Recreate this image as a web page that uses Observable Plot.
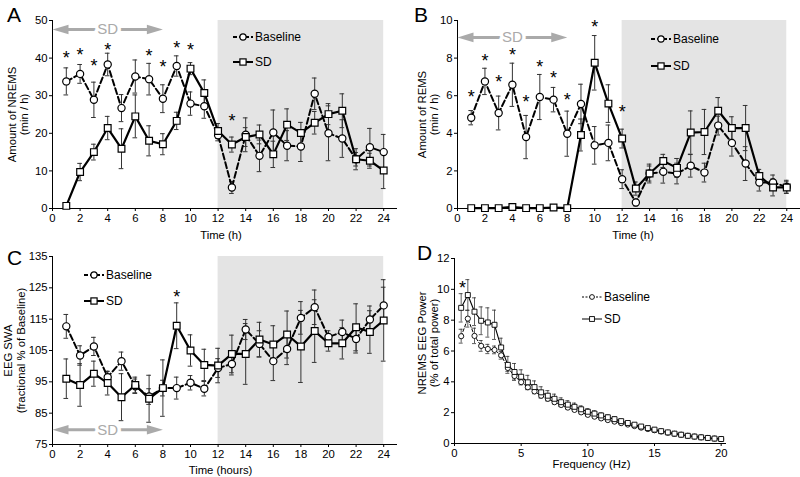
<!DOCTYPE html>
<html><head><meta charset="utf-8">
<script src="https://cdn.jsdelivr.net/npm/d3@7"></script>
<script src="https://cdn.jsdelivr.net/npm/@observablehq/plot@0.6"></script>
<style>
body{margin:0;background:#fff;font-family:"Liberation Sans",Arial,sans-serif;}
#fig{position:relative;width:800px;height:477px;overflow:hidden;background:#fff;}
.panel{position:absolute;}
.letter{position:absolute;font-size:21px;line-height:1;color:#000;}
.leg{position:absolute;height:14px;line-height:14px;font-size:12px;white-space:nowrap;display:flex;align-items:center;}
.leg svg{display:block;}
.leg span{margin-left:2px;}
</style></head><body><div id="fig"></div>
<script>
// ---------- data ----------
const hours = [1,2,3,4,5,6,7,8,9,10,11,12,13,14,15,16,17,18,19,20,21,22,23,24];
const timeTicks = [0,2,4,6,8,10,12,14,16,18,20,22,24];
const darkPhase = [12, 24];
const sdPeriod = [0, 8];
const sdLabel = "SD";
const seriesNames = ["Baseline", "SD"];

// A: NREMS (min/h)
const nremBase    = [33.8,35.8,28.9,38.3,26.7,35.1,34.4,29.2,37.9,27.9,27.2,19.5,5.6,19.6,14.0,20.2,16.7,16.5,30.5,20.0,18.6,13.1,16.3,15.0];
const nremBaseErr = [3.6,2.5,4.7,3.0,3.6,4.4,4.2,3.7,2.7,3.1,3.2,1.5,1.6,4.5,4.2,6.0,4.0,4.0,4.2,7.3,5.0,1.8,5.0,4.7];
const nremSD      = [0.7,9.7,15.0,21.4,15.9,24.5,18.0,17.1,23.3,37.2,30.7,20.6,17.0,19.0,19.7,14.4,22.3,20.1,22.8,25.1,26.0,13.1,12.7,10.1];
const nremSDErr   = [0,2.3,2.1,3.1,5.3,5.7,4.0,2.8,2.3,1.6,3.5,2.0,2.0,2.5,2.5,3.5,4.2,2.8,3.0,2.8,4.5,2.8,2.0,4.8];
const nremStarH   = [1,2,3,4,7,8,9,10,13];
const nremStarY   = [41.3,42.0,39.2,43.5,41.9,38.8,44.0,43.3,24.6];

// B: REMS (min/h)
const remBase    = [4.83,6.76,5.08,6.58,3.80,5.93,5.79,3.98,5.56,3.36,3.49,1.56,0.32,1.86,1.95,1.86,2.27,1.91,4.41,3.49,2.39,1.38,1.38,1.15];
const remBaseErr = [0.38,0.70,0.90,1.15,1.15,1.20,0.65,1.20,1.05,1.00,0.95,0.50,0.18,0.40,0.60,0.55,0.60,0.50,0.50,0.70,0.90,0.45,0.40,0.35];
const remSD      = [0.02,0.02,0.02,0.08,0.02,0.02,0.05,0.02,3.91,7.75,5.58,3.72,1.06,1.86,2.53,2.16,4.04,4.07,5.20,4.28,4.28,1.73,1.12,1.12];
const remSDErr   = [0,0,0,0,0,0,0,0,0.85,1.45,1.00,0.50,0.35,0.50,0.35,0.50,1.15,1.20,0.70,0.60,1.20,0.35,0.45,0.30];
const remStarH   = [1,2,3,4,5,6,7,8,10,12];
const remStarY   = [6.2,8.1,7.0,8.4,5.9,7.8,7.2,6.05,9.9,5.36];

// C: EEG SWA (% of baseline)
const swaBase    = [112.7,103.4,106.3,96.5,101.6,93.6,90.3,93.0,93.0,94.7,92.8,99.4,100.7,111.7,107.1,101.6,105.5,115.4,118.8,109.3,110.9,108.7,114.9,119.4];
const swaBaseErr = [3.8,3.1,2.9,1.8,2.9,2.3,2.5,2.5,3.5,2.3,2.3,3.0,3.5,3.2,4.2,6.2,5.0,5.2,5.5,2.0,3.8,4.5,4.3,5.8];
const swaSD      = [96.0,94.0,97.6,94.6,90.1,94.0,89.6,93.0,112.9,105.0,100.4,100.2,103.9,103.9,108.5,106.9,110.1,106.3,111.2,107.3,107.3,112.4,110.9,114.6];
const swaSDErr   = [6.3,6.8,4.0,3.8,7.5,2.5,7.5,9.0,7.3,5.0,5.0,5.5,6.0,9.7,5.5,6.0,7.5,11.5,10.0,2.5,5.0,7.5,6.8,13.0];
const swaStarH   = [9];
const swaStarY   = [123.6];

// D: NREMS EEG power spectrum
const freqs = [0.5,1,1.5,2,2.5,3,3.5,4,4.5,5,5.5,6,6.5,7,7.5,8,8.5,9,9.5,10,10.5,11,11.5,12,12.5,13,13.5,14,14.5,15,15.5,16,16.5,17,17.5,18,18.5,19,19.5,20];
const freqTicks = [0,5,10,15,20];
const psdBase    = [6.96,8.1,6.98,6.33,6.13,6.07,5.72,4.9,4.38,3.98,3.65,3.38,3.1,2.9,2.68,2.5,2.33,2.18,2.02,1.86,1.74,1.63,1.52,1.42,1.32,1.23,1.13,1.03,0.94,0.86,0.78,0.70,0.63,0.57,0.50,0.45,0.40,0.36,0.32,0.29];
const psdBaseErr = [0.45,0.55,0.5,0.35,0.3,0.25,0.25,0.22,0.2,0.18,0.16,0.15,0.14,0.13,0.12,0.11,0.1,0.1,0.09,0.09,0.08,0.08,0.07,0.07,0.06,0.06,0.05,0.05,0.05,0.04,0.04,0.04,0.03,0.03,0.03,0.03,0.03,0.03,0.03,0.03];
const psdSD      = [8.8,9.63,8.55,7.96,7.85,7.7,6.23,5.1,4.64,4.33,3.97,3.66,3.32,3.1,2.9,2.68,2.52,2.38,2.22,2.06,1.94,1.82,1.7,1.58,1.45,1.33,1.22,1.1,1.0,0.9,0.8,0.72,0.64,0.57,0.5,0.45,0.4,0.36,0.32,0.29];
const psdSDErr   = [0.92,1.0,0.9,0.9,0.95,0.95,0.6,0.55,0.55,0.45,0.45,0.4,0.36,0.33,0.3,0.28,0.26,0.24,0.22,0.2,0.18,0.16,0.15,0.14,0.12,0.1,0.09,0.08,0.07,0.06,0.05,0.05,0.04,0.04,0.03,0.03,0.03,0.03,0.03,0.03];
const psdStarF   = [0.6];
const psdStarY   = [10.4];

// ---------- helpers ----------
const FONT = "'Liberation Sans', Arial, Helvetica, sans-serif";
const fig = document.getElementById("fig");
const rec = (xs, vs, es) => xs.map((x, i) => ({x, v: vs[i], e: es[i]}));

function errMarks(data, cap, sw) {
  const d = data.filter(r => r.e > 0);
  const o = {stroke: "#333", strokeWidth: sw};
  return [
    Plot.ruleX(d, {x: "x", y1: r => r.v - r.e, y2: r => r.v + r.e, ...o}),
    Plot.ruleY(d, {y: r => r.v + r.e, x1: r => r.x - cap, x2: r => r.x + cap, ...o}),
    Plot.ruleY(d, {y: r => r.v - r.e, x1: r => r.x - cap, x2: r => r.x + cap, ...o})
  ];
}

const headLeft  = {draw(c) { c.moveTo(0, 0); c.lineTo(16, -4.8); c.lineTo(16, 4.8); c.closePath(); }};
const headRight = {draw(c) { c.moveTo(0, 0); c.lineTo(-16, -4.8); c.lineTo(-16, 4.8); c.closePath(); }};

function arrowMarks(y) {
  const mid = (sdPeriod[0] + sdPeriod[1]) / 2;
  return [
    Plot.ruleY([y], {x1: sdPeriod[0] + 0.6, x2: sdPeriod[1] - 0.6, stroke: "#aaa", strokeWidth: 3}),
    Plot.dot([sdPeriod[0]], {x: d => d, y: y, symbol: headLeft, fill: "#aaa", stroke: "none"}),
    Plot.dot([sdPeriod[1]], {x: d => d, y: y, symbol: headRight, fill: "#aaa", stroke: "none"}),
    Plot.text([sdLabel], {x: mid, y: y, text: d => d, fill: "#aaa", stroke: "white", strokeWidth: 7, fontSize: 15})
  ];
}

function panel(cfg) {
  const base = rec(cfg.xs, cfg.base, cfg.baseErr);
  const sd = rec(cfg.xs, cfg.sd, cfg.sdErr);
  const stars = cfg.starX.map((x, i) => ({x, v: cfg.starY[i]}));
  const small = cfg.small;
  const marks = [];
  if (cfg.shade) marks.push(Plot.rect([{x1: darkPhase[0], x2: darkPhase[1]}], {x1: "x1", x2: "x2", fill: "#e4e4e4"}));
  marks.push(
    Plot.ruleX([cfg.xDomain[0]], {stroke: "black"}),
    Plot.ruleY([cfg.yDomain[0]], {stroke: "black"}),
    ...errMarks(base, cfg.cap, small ? 0.8 : 1),
    ...errMarks(sd, cfg.cap, small ? 0.8 : 1),
    Plot.line(base, {x: "x", y: "v", stroke: "black", strokeWidth: small ? 1 : 2, strokeDasharray: small ? "3,2" : "6,3"}),
    Plot.line(sd, {x: "x", y: "v", stroke: "black", strokeWidth: small ? 1.1 : 2.2}),
    Plot.dot(base, {x: "x", y: "v", r: small ? 2.6 : 3.6, fill: "white", stroke: "black", strokeWidth: small ? 0.9 : 1.2}),
    Plot.dot(sd, {x: "x", y: "v", symbol: "square", r: small ? 2.8 : 3.8, fill: "white", stroke: "black", strokeWidth: small ? 0.9 : 1.2}),
    Plot.text(stars, {x: "x", y: "v", text: () => "*", fontSize: 18, dy: 5}),
    Plot.text([cfg.ylabel], {frameAnchor: "left", textAnchor: "middle", lineAnchor: "middle", dx: cfg.ylDx, dy: cfg.ylDy || 0, rotate: -90, text: d => d, fontSize: 11.3, lineHeight: cfg.ylLH || 1.05}),
    Plot.text([cfg.xlabel], {frameAnchor: "bottom", textAnchor: "middle", lineAnchor: "middle", dx: cfg.xlDx, dy: cfg.xlDy, text: d => d, fontSize: 11.3})
  );
  if (cfg.arrowY != null) marks.push(...arrowMarks(cfg.arrowY));
  const svg = Plot.plot({
    width: cfg.w, height: cfg.h,
    marginLeft: cfg.ml, marginRight: cfg.mr, marginTop: cfg.mt, marginBottom: cfg.mb,
    style: {fontFamily: FONT, fontSize: "11.3px", background: "transparent", color: "black", overflow: "visible"},
    x: {domain: cfg.xDomain, ticks: cfg.xTicks, tickSize: 3, tickPadding: 2, label: null},
    y: {domain: cfg.yDomain, ticks: cfg.yTicks, tickSize: 3, tickPadding: 2, label: null},
    marks
  });
  const wrap = document.createElement("div");
  wrap.className = "panel";
  wrap.style.left = cfg.left + "px";
  wrap.style.top = cfg.top + "px";
  wrap.appendChild(svg);
  fig.appendChild(wrap);
}

function letter(t, x, y) {
  const d = document.createElement("div");
  d.className = "letter"; d.textContent = t;
  d.style.left = x + "px"; d.style.top = y + "px";
  fig.appendChild(d);
}

function legendRow(x, y, label, dashed, square, small) {
  const d = document.createElement("div");
  d.className = "leg";
  d.style.left = x + "px"; d.style.top = (y - 7) + "px";
  const sw = small ? 1 : 2;
  const dash = dashed ? (small ? "2,1.5" : "4,2") : "none";
  const r = small ? 2.4 : 3.1;
  const mk = square
    ? `<rect x="${10 - r}" y="${7 - r}" width="${2 * r}" height="${2 * r}" fill="white" stroke="black" stroke-width="${small ? 0.9 : 1.2}"/>`
    : `<circle cx="10" cy="7" r="${r}" fill="white" stroke="black" stroke-width="${small ? 0.9 : 1.2}"/>`;
  d.innerHTML = `<svg width="20" height="14"><line x1="0" x2="20" y1="7" y2="7" stroke="black" stroke-width="${sw}" stroke-dasharray="${dash}"/>${mk}</svg><span>${label}</span>`;
  fig.appendChild(d);
}

// ---------- panels ----------
panel({left: 0, top: 0, w: 400, h: 240, ml: 52, mr: 3, mt: 20, mb: 32,
  xs: hours, base: nremBase, baseErr: nremBaseErr, sd: nremSD, sdErr: nremSDErr,
  xDomain: [0, 25], xTicks: timeTicks, yDomain: [0, 50], yTicks: [0,10,20,30,40,50],
  starX: nremStarH, starY: nremStarY, shade: true, cap: 0.17, arrowY: 47.6,
  ylabel: "Amount of NREMS\n(min / h)", ylDx: -34, xlabel: "Time (h)", xlDx: -4, xlDy: 27});

panel({left: 400, top: 0, w: 400, h: 240, ml: 57, mr: 0, mt: 20, mb: 32,
  xs: hours, base: remBase, baseErr: remBaseErr, sd: remSD, sdErr: remSDErr,
  xDomain: [0, 25], xTicks: timeTicks, yDomain: [0, 10], yTicks: [0,2,4,6,8,10],
  starX: remStarH, starY: remStarY, shade: true, cap: 0.17, arrowY: 9.1,
  ylabel: "Amount of REMS\n(min / h)", ylDx: -29, xlabel: "Time (h)", xlDx: 4, xlDy: 27});

panel({left: 0, top: 240, w: 400, h: 237, ml: 52, mr: 3, mt: 16, mb: 33,
  xs: hours, base: swaBase, baseErr: swaBaseErr, sd: swaSD, sdErr: swaSDErr,
  xDomain: [0, 25], xTicks: timeTicks, yDomain: [75, 135], yTicks: [75,85,95,105,115,125,135],
  starX: swaStarH, starY: swaStarY, shade: true, cap: 0.17, arrowY: 79.7,
  ylabel: "EEG SWA\n(fractional % of Baseline)", ylDx: -38.5, ylLH: 1.15, xlabel: "Time (hours)", xlDx: -4.5, xlDy: 26});

panel({left: 400, top: 240, w: 400, h: 237, ml: 54, mr: 74, mt: 18, mb: 34,
  xs: freqs, base: psdBase, baseErr: psdBaseErr, sd: psdSD, sdErr: psdSDErr,
  xDomain: [0, 20.4], xTicks: freqTicks, yDomain: [0, 12], yTicks: [0,2,4,6,8,10,12],
  starX: psdStarF, starY: psdStarY, shade: false, cap: 0.15, small: true,
  ylabel: "NREMS EEG Power\n(% of total power)", ylDx: -26, ylDy: -8, xlabel: "Frequency (Hz)", xlDx: 1, xlDy: 21});

// ---------- panel letters ----------
letter("A", 7, 4);
letter("B", 414, 4);
letter("C", 7, 247);
letter("D", 417, 242);

// ---------- legends ----------
legendRow(233, 37, seriesNames[0], true, false, false);
legendRow(233, 62, seriesNames[1], false, true, false);
legendRow(651, 39, seriesNames[0], true, false, false);
legendRow(651, 66, seriesNames[1], false, true, false);
legendRow(84, 275, seriesNames[0], true, false, false);
legendRow(84, 301, seriesNames[1], false, true, false);
legendRow(582, 297, seriesNames[0], true, false, true);
legendRow(582, 319, seriesNames[1], false, true, true);
</script>
</body></html>
